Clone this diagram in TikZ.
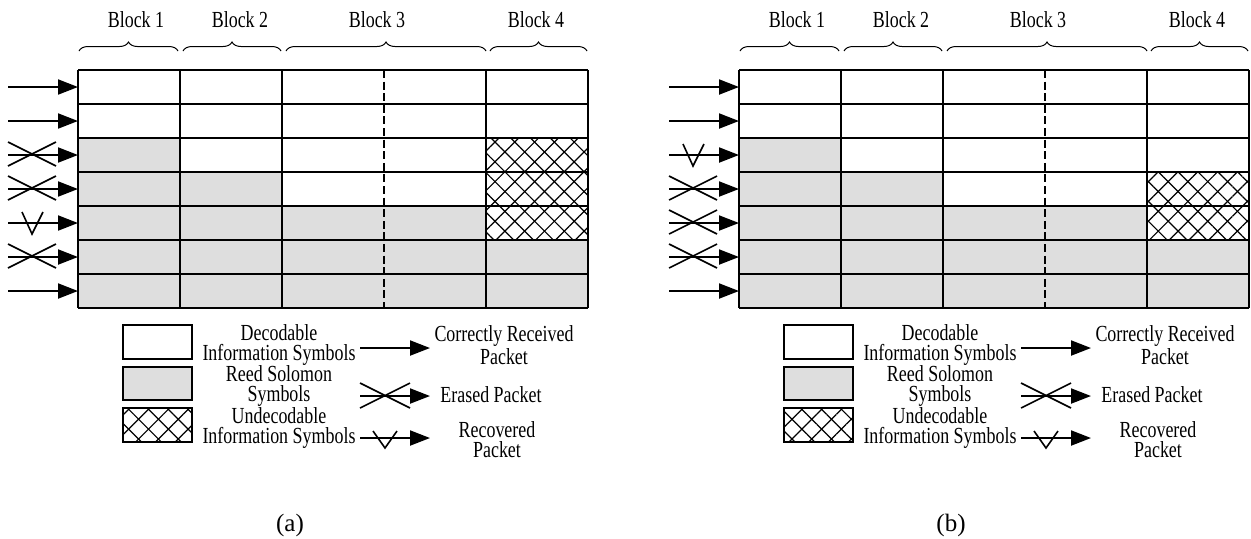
\documentclass[tikz,border=0pt]{standalone}
\usepackage{fontspec}
\setmainfont{Liberation Serif}[FakeStretch=0.78]
\newfontfamily\subfont{Liberation Serif}
\usetikzlibrary{arrows.meta,decorations.pathreplacing,patterns.meta}

\begin{document}
\begin{tikzpicture}
	[x=0.5pt,y=-0.5pt,every node/.style={inner sep=0pt, align=center, font=\fontsize{11.5}{10}\selectfont}]
	\tikzstyle{cellline} = [line width=1pt];
	\tikzstyle{half} = [line width=0.6pt, dash pattern=on 4pt off 1.8pt];
	\tikzstyle{rs} = [fill=black!13];
	\tikzstyle{undec} = [pattern={Lines[angle=45,distance=7pt,line width=0.6pt]}, postaction={pattern={Lines[angle=-45,distance=7pt,line width=0.6pt]}}];
	\tikzstyle{pkt} = [line width=1pt, -{Triangle[length=10pt,width=7.5pt]}];
	\tikzstyle{lost} = [line width=0.8pt];
	\tikzstyle{brc} = [line width=0.5pt, decorate, decoration={brace,amplitude=4.5pt}];
	\useasboundingbox (0,0) rectangle (1251,538);

	\foreach \p/\dx/\htop in {a/0/138,b/661/172} {
	\begin{scope}[shift={(\dx,0)}, name prefix=\p-]
		% blocks
		\node (blk1) at (136,20) {Block 1};
		\node (blk2) at (240,20) {Block 2};
		\node (blk3) at (377,20) {Block 3};
		\node (blk4) at (536,20) {Block 4};
		\draw[brc] (79,51) -- (178,51);
		\draw[brc] (183,51) -- (281,51);
		\draw[brc] (286,51) -- (486,51);
		\draw[brc] (490,51) -- (587,51);
		% symbols
		\fill[rs] (78,138) -| (180,172) -| (282,206) -| (486,240) -| (588,308) -- (78,308) -- cycle;
		\path[undec] (486,\htop) rectangle (588,240);
		\foreach \y in {70,104,...,308} \draw[cellline] (78,\y) -- (588,\y);
		\foreach \x in {78,180,282,486,588} \draw[cellline] (\x,70) -- (\x,308);
		\draw[half] (384,70) -- (384,308);
		% packets
		\foreach \i in {1,...,7} {
			\coordinate (in\i) at (8,53+34*\i);
			\coordinate (row\i) at (78,53+34*\i);
			\draw[pkt] (in\i) -- (row\i);
		}
		% legend
		\draw[cellline] (123,325) rectangle (192,359);
		\draw[cellline,rs] (123,367) rectangle (192,400);
		\draw[cellline,undec] (123,408) rectangle (192,442);
		\node (dec) at (279,345) {Decodable\\Information Symbols};
		\node (rsy) at (279,386) {Reed Solomon\\Symbols};
		\node (und) at (279,428) {Undecodable\\Information Symbols};
		\node (crr) at (504,345) {Correctly Received\\Packet};
		\node[anchor=west] (ers) at (440,395) {Erased Packet};
		\node (rcv) at (497,440) {Recovered\\Packet};
		\coordinate (lg1) at (360,348); \coordinate (lt1) at (430,348);
		\coordinate (lg2) at (360,396); \coordinate (lt2) at (430,396);
		\coordinate (lg3) at (360,438); \coordinate (lt3) at (430,438);
		\draw[pkt] (lg1) -- (lt1);
		\draw[pkt] (lg2) -- (lt2);
		\draw[pkt] (lg3) -- (lt3);
		\draw[lost] (lg2) +(0,-13) -- +(50,12) +(0,12) -- +(50,-13);
		\draw[lost] (lg3) +(13,-7) -- +(25,10) -- +(37,-7);
		\node[font=\fontsize{12.5}{14}\subfont] (cap) at (290,525) {(\p)};
	\end{scope}
	}

	% erased and recovered packets
	\foreach \r in {a-in3,a-in4,a-in6,b-in4,b-in5,b-in6}
		\draw[lost] (\r) +(0,-13) -- +(48,11) +(0,11) -- +(48,-13);
	\draw[lost] (a-in5) +(14,-11) -- +(24,11) -- +(35,-11);
	\draw[lost] (b-in3) +(14,-11) -- +(24,11) -- +(35,-11);
\end{tikzpicture}
\end{document}
